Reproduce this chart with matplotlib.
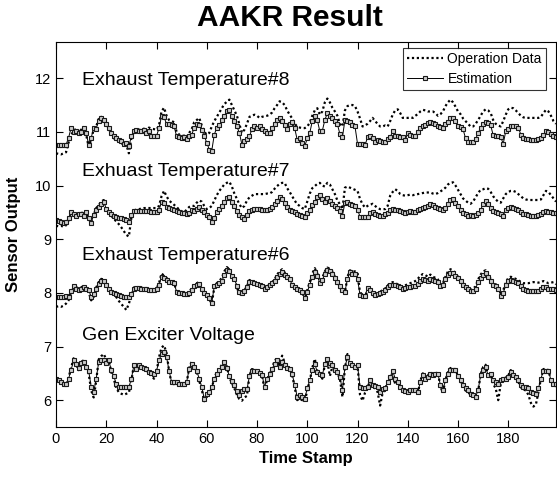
import numpy as np
import matplotlib
matplotlib.use("Agg")
import matplotlib.pyplot as plt

plt.rcParams['font.family'] = ['Liberation Sans', 'DejaVu Sans']

# time stamps
t = np.arange(200)

# Exhaust Temperature #8
ex8_est = [
    10.75, 10.76, 10.75, 10.75, 10.76, 10.89, 11.07, 11.00, 11.02, 10.97,
    11.00, 11.07, 10.98, 10.76, 10.89, 11.07, 11.06, 11.21, 11.25, 11.23,
    11.14, 11.07, 10.98, 10.92, 10.89, 10.84, 10.83, 10.78, 10.80, 10.73,
    10.92, 11.02, 11.04, 11.01, 11.02, 11.04, 10.98, 11.02, 10.92, 10.92,
    10.92, 11.07, 11.29, 11.27, 11.15, 11.14, 11.12, 11.10, 10.92, 10.90,
    10.89, 10.90, 10.86, 10.92, 10.95, 11.07, 11.15, 11.12, 11.04, 10.92,
    10.80, 10.67, 10.65, 10.95, 11.08, 11.12, 11.22, 11.30, 11.38, 11.41,
    11.30, 11.20, 11.10, 10.98, 10.76, 10.83, 10.86, 10.92, 11.05, 11.10,
    11.08, 11.10, 11.06, 11.01, 10.98, 10.98, 11.07, 11.15, 11.23, 11.26,
    11.20, 11.12, 11.05, 11.15, 11.19, 11.07, 10.85, 10.88, 10.80, 10.73,
    10.88, 10.98, 11.20, 11.29, 11.22, 11.01, 11.02, 11.22, 11.35, 11.30,
    11.26, 11.20, 11.14, 10.96, 10.90, 11.22, 11.20, 11.18, 11.12, 11.10,
    10.78, 10.78, 10.77, 10.75, 10.90, 10.92, 10.88, 10.81, 10.85, 10.83,
    10.81, 10.82, 10.86, 10.90, 11.01, 10.93, 10.93, 10.91, 10.90, 10.85,
    10.97, 10.94, 10.92, 10.93, 11.00, 11.07, 11.10, 11.13, 11.16, 11.19,
    11.17, 11.15, 11.10, 11.09, 11.08, 11.14, 11.19, 11.26, 11.25, 11.20,
    11.10, 11.09, 11.05, 10.88, 10.82, 10.81, 10.81, 10.86, 10.98, 11.07,
    11.15, 11.19, 11.17, 11.12, 10.94, 10.93, 10.92, 10.90, 10.78, 11.01,
    11.05, 11.10, 11.10, 11.11, 11.08, 10.95, 10.88, 10.86, 10.86, 10.85,
    10.85, 10.85, 10.86, 10.88, 10.95, 11.01, 11.00, 10.96, 10.92, 10.90,
]
ex8_op = [
    10.60, 10.59, 10.58, 10.60, 10.62, 10.80, 10.93, 11.03, 11.05, 10.98,
    11.04, 11.09, 10.95, 10.72, 10.85, 11.05, 11.10, 11.24, 11.28, 11.25,
    11.12, 11.05, 10.95, 10.88, 10.86, 10.82, 10.80, 10.74, 10.76, 10.60,
    10.88, 11.00, 11.06, 11.04, 11.03, 11.06, 11.00, 11.08, 11.06, 11.05,
    11.04, 11.12, 11.38, 11.45, 11.30, 11.22, 11.20, 11.18, 11.00, 10.95,
    10.92, 10.93, 10.90, 10.98, 11.05, 11.18, 11.22, 11.26, 11.12, 11.00,
    10.95, 10.98, 11.10, 11.20, 11.28, 11.36, 11.44, 11.52, 11.56, 11.60,
    11.50, 11.40, 11.30, 11.14, 10.98, 11.04, 11.15, 11.28, 11.30, 11.32,
    11.30, 11.26, 11.28, 11.29, 11.30, 11.32, 11.36, 11.44, 11.50, 11.57,
    11.55, 11.50, 11.40, 11.32, 11.25, 11.15, 11.10, 11.08, 11.07, 11.07,
    11.10, 11.17, 11.30, 11.40, 11.44, 11.32, 11.38, 11.55, 11.62, 11.55,
    11.45, 11.38, 11.30, 11.15, 11.10, 11.40, 11.48, 11.50, 11.50, 11.48,
    11.38, 11.25, 11.10, 11.12, 11.15, 11.20, 11.26, 11.20, 11.15, 11.10,
    11.10, 11.12, 11.10, 11.20, 11.32, 11.40, 11.42, 11.35, 11.26, 11.26,
    11.26, 11.27, 11.26, 11.30, 11.33, 11.38, 11.41, 11.40, 11.38, 11.38,
    11.38, 11.35, 11.30, 11.33, 11.38, 11.48, 11.55, 11.60, 11.55, 11.47,
    11.38, 11.33, 11.25, 11.20, 11.15, 11.10, 11.10, 11.15, 11.22, 11.30,
    11.38, 11.42, 11.40, 11.35, 11.22, 11.15, 11.12, 11.10, 11.20, 11.32,
    11.42, 11.45, 11.44, 11.40, 11.35, 11.30, 11.27, 11.26, 11.26, 11.26,
    11.26, 11.26, 11.26, 11.28, 11.35, 11.41, 11.38, 11.30, 11.20, 11.15,
]

# Exhaust Temperature #7
ex7_est = [
    9.35, 9.33, 9.32, 9.31, 9.32, 9.40, 9.50, 9.47, 9.44, 9.46,
    9.47, 9.43, 9.50, 9.40, 9.31, 9.45, 9.55, 9.60, 9.66, 9.70,
    9.57, 9.50, 9.47, 9.44, 9.42, 9.40, 9.39, 9.38, 9.36, 9.32,
    9.45, 9.52, 9.53, 9.53, 9.52, 9.53, 9.53, 9.52, 9.51, 9.50,
    9.50, 9.54, 9.70, 9.68, 9.60, 9.58, 9.57, 9.55, 9.52, 9.50,
    9.49, 9.48, 9.46, 9.48, 9.55, 9.52, 9.56, 9.60, 9.55, 9.50,
    9.45, 9.42, 9.32, 9.40, 9.50, 9.56, 9.62, 9.70, 9.76, 9.78,
    9.70, 9.62, 9.52, 9.45, 9.41, 9.38, 9.45, 9.52, 9.55, 9.57,
    9.56, 9.57, 9.55, 9.54, 9.55, 9.57, 9.60, 9.65, 9.72, 9.78,
    9.75, 9.68, 9.60, 9.55, 9.52, 9.50, 9.47, 9.45, 9.44, 9.41,
    9.48, 9.55, 9.63, 9.70, 9.78, 9.82, 9.75, 9.70, 9.76, 9.72,
    9.65, 9.62, 9.58, 9.52, 9.44, 9.68, 9.70, 9.66, 9.64, 9.62,
    9.55, 9.42, 9.41, 9.41, 9.42, 9.48, 9.50, 9.47, 9.45, 9.43,
    9.44, 9.46, 9.48, 9.54, 9.56, 9.55, 9.54, 9.52, 9.50, 9.48,
    9.50, 9.52, 9.51, 9.50, 9.54, 9.57, 9.58, 9.60, 9.62, 9.65,
    9.63, 9.60, 9.58, 9.56, 9.55, 9.58, 9.66, 9.73, 9.74, 9.68,
    9.62, 9.55, 9.48, 9.46, 9.44, 9.45, 9.44, 9.45, 9.48, 9.55,
    9.65, 9.72, 9.66, 9.58, 9.52, 9.50, 9.49, 9.47, 9.44, 9.55,
    9.58, 9.60, 9.59, 9.56, 9.54, 9.50, 9.47, 9.46, 9.45, 9.44,
    9.44, 9.44, 9.45, 9.47, 9.50, 9.52, 9.51, 9.50, 9.49, 9.48,
]
ex7_op = [
    9.25, 9.24, 9.25, 9.23, 9.26, 9.35, 9.44, 9.48, 9.46, 9.45,
    9.50, 9.48, 9.52, 9.38, 9.30, 9.45, 9.58, 9.63, 9.70, 9.73,
    9.60, 9.50, 9.44, 9.38, 9.33, 9.28, 9.22, 9.15, 9.08, 9.05,
    9.40, 9.52, 9.56, 9.56, 9.57, 9.58, 9.58, 9.58, 9.58, 9.58,
    9.58, 9.62, 9.80, 9.90, 9.80, 9.72, 9.68, 9.64, 9.60, 9.55,
    9.52, 9.50, 9.55, 9.60, 9.62, 9.62, 9.68, 9.72, 9.70, 9.62,
    9.56, 9.58, 9.62, 9.72, 9.82, 9.90, 9.96, 10.02, 10.05, 10.07,
    9.98, 9.85, 9.75, 9.65, 9.58, 9.62, 9.72, 9.78, 9.81, 9.84,
    9.84, 9.84, 9.84, 9.84, 9.85, 9.85, 9.88, 9.94, 9.99, 10.03,
    10.05, 10.05, 9.95, 9.88, 9.80, 9.72, 9.65, 9.62, 9.58, 9.56,
    9.70, 9.85, 9.95, 9.99, 10.03, 10.05, 10.00, 9.98, 10.05, 10.02,
    9.93, 9.84, 9.72, 9.65, 9.56, 9.96, 9.98, 9.96, 9.94, 9.92,
    9.90, 9.75, 9.65, 9.59, 9.62, 9.64, 9.66, 9.62, 9.58, 9.56,
    9.56, 9.56, 9.62, 9.81, 9.88, 9.93, 9.90, 9.84, 9.82, 9.81,
    9.82, 9.83, 9.82, 9.83, 9.84, 9.85, 9.86, 9.87, 9.87, 9.87,
    9.85, 9.84, 9.86, 9.89, 9.92, 9.96, 10.02, 10.05, 10.06, 10.00,
    9.92, 9.84, 9.76, 9.72, 9.68, 9.66, 9.70, 9.78, 9.86, 9.92,
    9.93, 9.95, 9.94, 9.88, 9.80, 9.74, 9.70, 9.68, 9.76, 9.84,
    9.88, 9.90, 9.90, 9.88, 9.84, 9.80, 9.76, 9.74, 9.73, 9.73,
    9.73, 9.73, 9.73, 9.74, 9.82, 9.90, 9.88, 9.82, 9.76, 9.70,
]

# Exhaust Temperature #6
ex6_est = [
    7.92, 7.92, 7.92, 7.93, 7.94, 7.93, 8.03, 8.12, 8.08, 8.05,
    8.07, 8.10, 8.08, 8.06, 7.92, 7.98, 8.08, 8.16, 8.22, 8.22,
    8.14, 8.08, 8.02, 8.00, 7.98, 7.96, 7.94, 7.93, 7.92, 7.92,
    7.97, 8.08, 8.09, 8.09, 8.08, 8.08, 8.07, 8.06, 8.05, 8.05,
    8.07, 8.15, 8.30, 8.28, 8.24, 8.20, 8.20, 8.18, 8.02, 8.00,
    7.99, 7.98, 7.98, 8.00, 8.05, 8.12, 8.14, 8.16, 8.08, 8.00,
    7.96, 7.90, 7.82, 8.12, 8.15, 8.18, 8.22, 8.33, 8.42, 8.40,
    8.32, 8.26, 8.13, 8.02, 7.99, 8.03, 8.10, 8.20, 8.20, 8.19,
    8.17, 8.15, 8.12, 8.08, 8.10, 8.14, 8.18, 8.22, 8.30, 8.35,
    8.39, 8.33, 8.30, 8.25, 8.15, 8.10, 8.08, 8.06, 8.02, 7.90,
    8.02, 8.15, 8.30, 8.38, 8.32, 8.18, 8.24, 8.35, 8.42, 8.40,
    8.36, 8.27, 8.20, 8.12, 8.06, 8.02, 8.26, 8.38, 8.36, 8.35,
    8.26, 7.96, 7.95, 7.95, 8.09, 8.05, 7.99, 7.96, 7.98, 8.00,
    8.02, 8.05, 8.10, 8.14, 8.14, 8.14, 8.13, 8.11, 8.08, 8.09,
    8.10, 8.11, 8.12, 8.13, 8.17, 8.23, 8.26, 8.24, 8.23, 8.26,
    8.24, 8.22, 8.20, 8.12, 8.14, 8.25, 8.33, 8.37, 8.37, 8.32,
    8.27, 8.22, 8.15, 8.10, 8.07, 8.04, 8.04, 8.08, 8.20, 8.28,
    8.34, 8.37, 8.30, 8.22, 8.15, 8.12, 8.08, 7.95, 8.00, 8.14,
    8.23, 8.24, 8.23, 8.20, 8.18, 8.12, 8.08, 8.05, 8.04, 8.03,
    8.03, 8.04, 8.04, 8.08, 8.10, 8.11, 8.07, 8.08, 8.08, 8.06,
]
ex6_op = [
    7.74, 7.75, 7.74, 7.76, 7.80, 7.86, 7.98, 8.15, 8.12, 8.03,
    8.10, 8.13, 8.05, 8.02, 7.86, 7.92, 8.10, 8.20, 8.26, 8.25,
    8.16, 8.06, 8.00, 7.96, 7.92, 7.85, 7.79, 7.74, 7.68, 7.80,
    7.95, 8.10, 8.11, 8.08, 8.10, 8.07, 8.09, 8.05, 8.06, 8.04,
    8.08, 8.18, 8.36, 8.32, 8.28, 8.22, 8.18, 8.20, 8.00, 7.98,
    7.97, 7.99, 7.96, 8.02, 8.08, 8.16, 8.18, 8.20, 8.12, 8.02,
    7.95, 7.88, 7.80, 8.10, 8.18, 8.22, 8.28, 8.40, 8.48, 8.44,
    8.36, 8.28, 8.10, 7.98, 7.96, 8.05, 8.12, 8.24, 8.22, 8.20,
    8.18, 8.17, 8.10, 8.07, 8.12, 8.16, 8.20, 8.25, 8.34, 8.40,
    8.44, 8.38, 8.32, 8.28, 8.18, 8.12, 8.10, 8.05, 8.00, 7.88,
    8.05, 8.20, 8.36, 8.46, 8.36, 8.22, 8.28, 8.40, 8.47, 8.45,
    8.40, 8.30, 8.22, 8.10, 8.03, 8.00, 8.30, 8.42, 8.40, 8.40,
    8.38, 8.00, 7.98, 7.92, 8.05, 8.08, 7.96, 7.94, 7.97, 8.02,
    8.05, 8.08, 8.14, 8.18, 8.20, 8.18, 8.16, 8.13, 8.12, 8.14,
    8.16, 8.18, 8.20, 8.22, 8.26, 8.32, 8.35, 8.33, 8.30, 8.34,
    8.30, 8.28, 8.25, 8.15, 8.18, 8.30, 8.40, 8.44, 8.42, 8.36,
    8.30, 8.24, 8.18, 8.12, 8.08, 8.06, 8.08, 8.12, 8.25, 8.34,
    8.40, 8.42, 8.34, 8.26, 8.18, 8.16, 8.12, 8.00, 8.05, 8.18,
    8.28, 8.30, 8.28, 8.26, 8.24, 8.20, 8.18, 8.18, 8.18, 8.19,
    8.20, 8.20, 8.19, 8.20, 8.22, 8.20, 8.18, 8.19, 8.20, 8.16,
]

# Generator exciter voltage
gen_est = [
    6.40, 6.38, 6.33, 6.31, 6.30, 6.40, 6.56, 6.74, 6.68, 6.60,
    6.70, 6.71, 6.62, 6.55, 6.25, 6.15, 6.40, 6.71, 6.74, 6.74,
    6.70, 6.74, 6.56, 6.45, 6.30, 6.25, 6.25, 6.25, 6.25, 6.24,
    6.40, 6.65, 6.58, 6.65, 6.62, 6.60, 6.58, 6.52, 6.50, 6.48,
    6.54, 6.74, 6.86, 6.90, 6.80, 6.55, 6.34, 6.33, 6.33, 6.31,
    6.31, 6.30, 6.34, 6.58, 6.68, 6.62, 6.55, 6.40, 6.25, 6.03,
    6.11, 6.15, 6.25, 6.40, 6.49, 6.56, 6.62, 6.71, 6.60, 6.45,
    6.36, 6.28, 6.18, 6.10, 6.18, 6.20, 6.20, 6.45, 6.55, 6.55,
    6.55, 6.50, 6.47, 6.25, 6.40, 6.48, 6.58, 6.68, 6.74, 6.62,
    6.72, 6.65, 6.60, 6.59, 6.49, 6.28, 6.06, 6.09, 6.05, 6.03,
    6.22, 6.37, 6.56, 6.68, 6.52, 6.48, 6.46, 6.68, 6.77, 6.70,
    6.65, 6.56, 6.52, 6.43, 6.19, 6.62, 6.80, 6.70, 6.65, 6.62,
    6.65, 6.25, 6.22, 6.23, 6.25, 6.37, 6.28, 6.26, 6.25, 6.15,
    6.20, 6.22, 6.34, 6.43, 6.55, 6.40, 6.34, 6.25, 6.19, 6.17,
    6.15, 6.19, 6.19, 6.19, 6.15, 6.34, 6.46, 6.40, 6.44, 6.49,
    6.46, 6.48, 6.49, 6.28, 6.19, 6.37, 6.49, 6.56, 6.56, 6.56,
    6.45, 6.37, 6.28, 6.22, 6.19, 6.12, 6.10, 6.06, 6.19, 6.46,
    6.56, 6.62, 6.46, 6.49, 6.37, 6.34, 6.31, 6.38, 6.40, 6.40,
    6.43, 6.52, 6.47, 6.43, 6.37, 6.28, 6.25, 6.24, 6.22, 6.15,
    6.13, 6.12, 6.22, 6.40, 6.55, 6.55, 6.55, 6.37, 6.31, 6.30,
]
gen_op = [
    6.42, 6.36, 6.30, 6.28, 6.28, 6.42, 6.60, 6.78, 6.66, 6.56,
    6.72, 6.74, 6.60, 6.50, 6.18, 6.05, 6.36, 6.76, 6.82, 6.86,
    6.76, 6.76, 6.52, 6.40, 6.22, 6.15, 6.12, 6.10, 6.12, 6.14,
    6.36, 6.66, 6.56, 6.66, 6.64, 6.58, 6.56, 6.50, 6.46, 6.40,
    6.52, 6.80, 6.98, 7.02, 6.88, 6.55, 6.30, 6.30, 6.32, 6.30,
    6.28, 6.28, 6.32, 6.60, 6.72, 6.64, 6.52, 6.36, 6.20, 5.98,
    6.06, 6.12, 6.22, 6.42, 6.52, 6.58, 6.66, 6.76, 6.62, 6.42,
    6.32, 6.22, 6.10, 6.02, 5.99, 6.05, 6.08, 6.46, 6.58, 6.56,
    6.56, 6.48, 6.46, 6.20, 6.38, 6.50, 6.62, 6.72, 6.80, 6.66,
    6.83, 6.70, 6.62, 6.60, 6.46, 6.24, 6.00, 6.02, 6.00, 5.98,
    6.18, 6.36, 6.60, 6.77, 6.54, 6.46, 6.40, 6.66, 6.72, 6.45,
    6.62, 6.58, 6.50, 6.40, 6.06, 6.60, 6.86, 6.72, 6.66, 6.62,
    6.66, 6.10, 5.99, 6.14, 6.22, 6.38, 6.26, 6.22, 6.15, 5.90,
    6.14, 6.20, 6.36, 6.46, 6.50, 6.30, 6.32, 6.24, 6.16, 6.14,
    6.12, 6.18, 6.20, 6.17, 6.12, 6.36, 6.50, 6.42, 6.46, 6.52,
    6.48, 6.50, 6.52, 6.25, 6.14, 6.38, 6.52, 6.60, 6.58, 6.58,
    6.44, 6.34, 6.25, 6.18, 6.15, 6.10, 6.08, 6.04, 6.16, 6.48,
    6.62, 6.66, 6.44, 6.50, 6.30, 6.22, 6.00, 6.30, 6.40, 6.42,
    6.46, 6.56, 6.48, 6.42, 6.34, 6.24, 6.20, 6.18, 6.10, 5.95,
    5.88, 5.92, 6.15, 6.40, 6.58, 6.58, 6.56, 6.36, 6.28, 6.26,
]

series = [
    ('Exhaust Temperature#8', ex8_op, ex8_est, 11.95),
    ('Exhuast Temperature#7', ex7_op, ex7_est, 10.27),
    ('Exhaust Temperature#6', ex6_op, ex6_est, 8.69),
    ('Gen Exciter Voltage', gen_op, gen_est, 7.21),
]

fig = plt.figure(figsize=(5.57, 4.78), dpi=100)
ax = fig.add_axes([56 / 557, 51 / 478, 500 / 557, 385.3 / 478])

for i, (name, op, est, label_y) in enumerate(series):
    ax.plot(t, op, color='black', linestyle=(0, (1, 1.2)), linewidth=1.6,
            label='Operation Data' if i == 0 else None)
    ax.plot(t, est, color='black', linewidth=0.7, marker='s', markersize=2.8,
            markerfacecolor='0.8', markeredgecolor='0.1', markeredgewidth=0.8,
            label='Estimation' if i == 0 else None)
    ax.text(10.3, label_y, name, fontsize=14, ha='left', va='center')

ax.set_xlim(0, 199)
ax.set_ylim(5.5, 12.68)
ax.set_xticks(np.arange(0, 181, 20))
ax.set_yticks(np.arange(6, 13, 1))
ax.tick_params(direction='in', top=True, right=True, length=5, width=0.8,
               labelsize=10.5)
for sp in ax.spines.values():
    sp.set_linewidth(0.8)

ax.set_xlabel('Time Stamp', fontsize=12, fontweight='bold', labelpad=4)
ax.set_ylabel('Sensor Output', fontsize=12, fontweight='bold', labelpad=10)
fig.text(290 / 557, 1 - 18 / 478, 'AAKR Result', fontsize=21.5,
         fontweight='bold', ha='center', va='center')

leg = ax.legend(loc='upper right', bbox_to_anchor=(0.98, 0.984),
                borderaxespad=0, fontsize=10, handlelength=2.6,
                handletextpad=0.3, labelspacing=0.4, borderpad=0.3,
                fancybox=False, numpoints=1)
leg.get_frame().set_edgecolor('black')
leg.get_frame().set_linewidth(0.8)

fig.savefig('out.png', dpi=100)
